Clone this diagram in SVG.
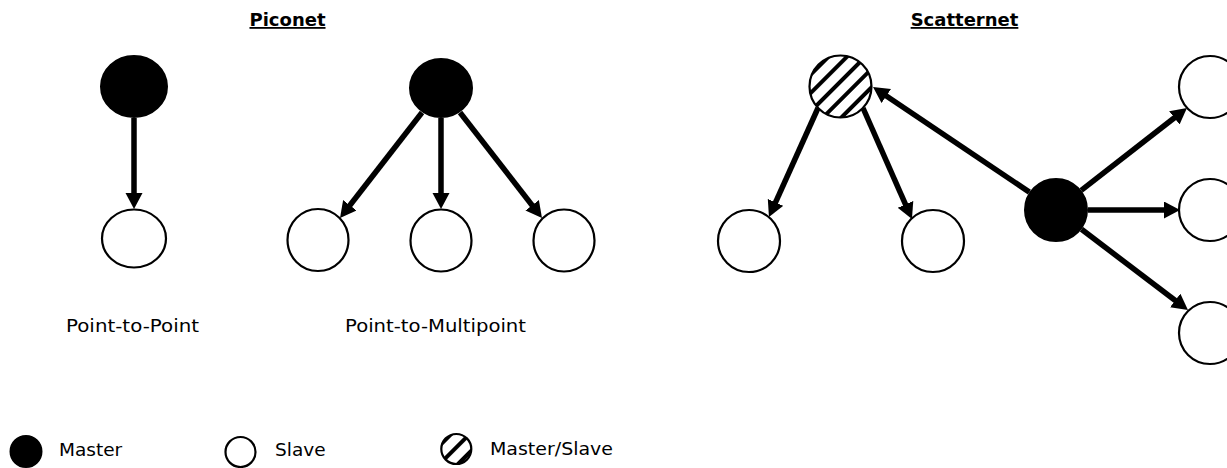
<svg xmlns="http://www.w3.org/2000/svg" width="1227" height="468" viewBox="0 0 1227 468">
  <style>
    .title { font-family: "DejaVu Sans", Verdana, sans-serif; font-size: 18px; font-weight: bold; fill: #000; text-decoration: underline; }
    .lbl { font-family: "DejaVu Sans", Verdana, sans-serif; font-size: 18.5px; fill: #000; }
    .master { fill: #000; stroke: #000; stroke-width: 2; }
    .slave { fill: #fff; stroke: #000; stroke-width: 2.2; }
    .ms { fill: url(#hatch); stroke: #000; stroke-width: 2.2; }
    .edge { stroke: #000; stroke-width: 5.5; fill: none; marker-end: url(#arrow); }
  </style>
  <defs>
    <pattern id="hatch" patternUnits="userSpaceOnUse" width="13" height="13" patternTransform="rotate(45)">
      <rect x="0" y="0" width="13" height="13" fill="#fff"/>
      <rect x="0" y="0" width="4" height="13" fill="#000"/>
    </pattern>
    <marker id="arrow" markerUnits="userSpaceOnUse" markerWidth="18" markerHeight="18" refX="3" refY="8.5" orient="auto">
      <path d="M0,0 L16,8.5 L0,17 Z" fill="#000"/>
    </marker>
  </defs>
  <rect width="1227" height="468" fill="#fff"/>

  <text class="title" x="287.5" y="26" text-anchor="middle">Piconet</text>
  <text class="title" x="964.5" y="26" text-anchor="middle">Scatternet</text>

  <g id="connectors">
    <line class="edge" x1="134" y1="118" x2="134" y2="196"/>
    <line class="edge" x1="422" y1="112.5" x2="348" y2="207.7"/>
    <line class="edge" x1="441" y1="118" x2="441" y2="196"/>
    <line class="edge" x1="460" y1="112.5" x2="534" y2="207.7"/>
    <line class="edge" x1="1029.4" y1="192.1" x2="883.8" y2="94.3"/>
    <line class="edge" x1="818" y1="108" x2="774.3" y2="205.1"/>
    <line class="edge" x1="863" y1="108" x2="906.7" y2="207.1"/>
    <line class="edge" x1="1081.2" y1="190.4" x2="1176.7" y2="116"/>
    <line class="edge" x1="1088" y1="210" x2="1167" y2="210"/>
    <line class="edge" x1="1081.5" y1="229.3" x2="1177.6" y2="302.2"/>
  </g>

  <g id="p2p-master"><ellipse class="master" cx="134" cy="86.5" rx="33" ry="30.5"/></g>
  <g id="p2p-slave"><ellipse class="slave" cx="134" cy="238.5" rx="32" ry="29"/></g>
  <g id="p2m-master"><ellipse class="master" cx="441" cy="88" rx="31" ry="29"/></g>
  <g id="p2m-slave1"><ellipse class="slave" cx="318" cy="240" rx="30.5" ry="31"/></g>
  <g id="p2m-slave2"><ellipse class="slave" cx="441" cy="240.5" rx="30.5" ry="31"/></g>
  <g id="p2m-slave3"><ellipse class="slave" cx="564" cy="240.5" rx="30.5" ry="31"/></g>

  <g id="sc-masterslave"><circle class="ms" cx="840.5" cy="86.5" r="31"/></g>
  <g id="sc-slave-left"><circle class="slave" cx="749" cy="241" r="31"/></g>
  <g id="sc-slave-right"><circle class="slave" cx="933" cy="241" r="31"/></g>
  <g id="sc-master"><circle class="master" cx="1056" cy="210" r="31"/></g>
  <g id="sc-slave-top"><circle class="slave" cx="1210" cy="87" r="31"/></g>
  <g id="sc-slave-mid"><circle class="slave" cx="1210" cy="210" r="31"/></g>
  <g id="sc-slave-bot"><circle class="slave" cx="1210" cy="333" r="31"/></g>

  <text class="lbl" x="66" y="332" textLength="133" lengthAdjust="spacingAndGlyphs">Point-to-Point</text>
  <text class="lbl" x="345" y="332" textLength="181" lengthAdjust="spacingAndGlyphs">Point-to-Multipoint</text>

  <g id="legend-master">
    <circle class="master" cx="26" cy="451.5" r="15.5"/>
    <text class="lbl" x="59" y="456">Master</text>
  </g>
  <g id="legend-slave">
    <circle class="slave" cx="240.5" cy="452" r="15"/>
    <text class="lbl" x="275" y="456">Slave</text>
  </g>
  <g id="legend-masterslave">
    <circle class="ms" cx="456.3" cy="449" r="15"/>
    <text class="lbl" x="490" y="455" textLength="123" lengthAdjust="spacingAndGlyphs">Master/Slave</text>
  </g>
</svg>
